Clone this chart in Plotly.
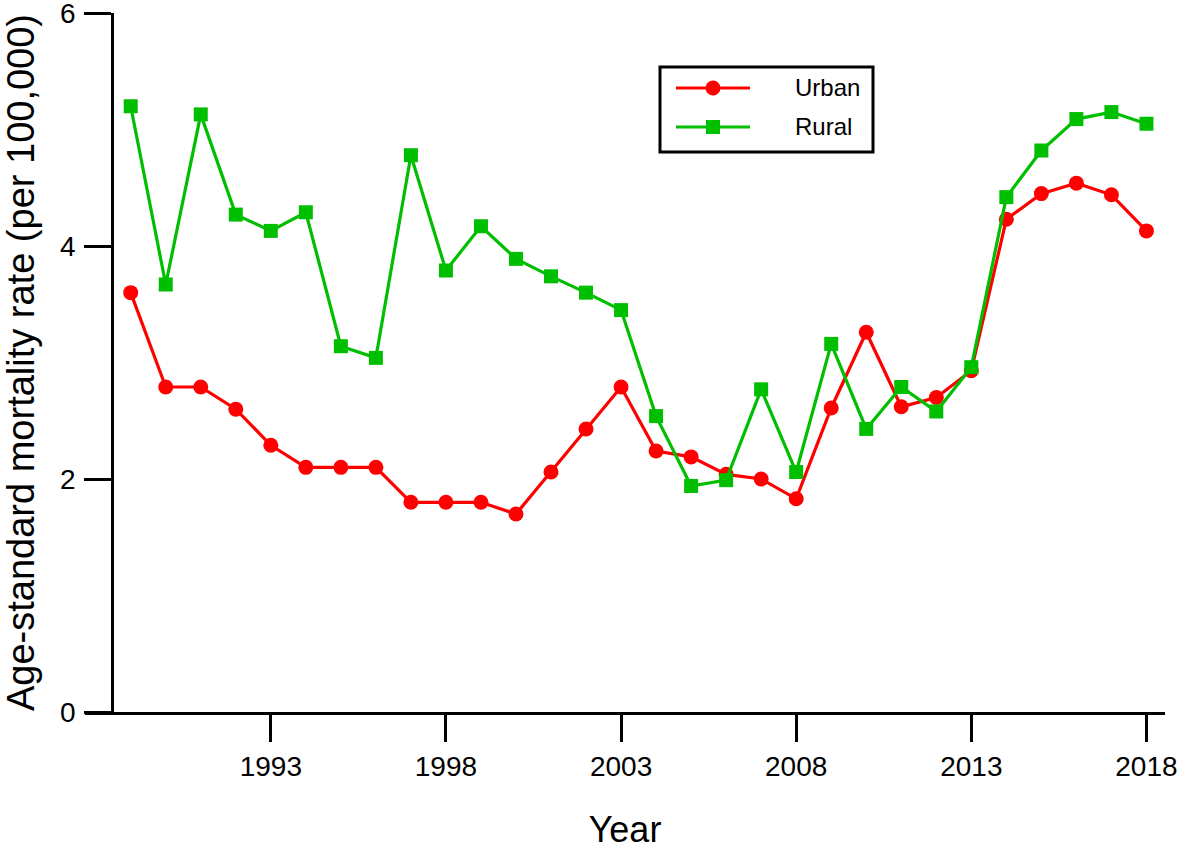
import plotly.graph_objects as go

years = list(range(1989, 2019))
urban = [3.60, 2.79, 2.79, 2.60, 2.29, 2.10, 2.10, 2.10, 1.80, 1.80,
         1.80, 1.70, 2.06, 2.43, 2.79, 2.24, 2.19, 2.04, 2.00, 1.83,
         2.61, 3.26, 2.62, 2.70, 2.93, 4.23, 4.45, 4.54, 4.44, 4.13]
rural = [5.20, 3.67, 5.13, 4.27, 4.13, 4.29, 3.14, 3.04, 4.78, 3.79,
         4.17, 3.89, 3.74, 3.60, 3.45, 2.54, 1.94, 1.99, 2.77, 2.06,
         3.16, 2.43, 2.79, 2.58, 2.96, 4.42, 4.82, 5.09, 5.15, 5.05]
x_ticks = [1993, 1998, 2003, 2008, 2013, 2018]
y_ticks = [0, 2, 4, 6]
series_names = ["Urban", "Rural"]

RED = "rgb(255,0,0)"
GREEN = "rgb(0,190,0)"
FONT = "Liberation Sans, Arial, sans-serif"

W, H = 1181, 850
ML, MR, MT, MB = 85, 16, 13, 138
PW, PH = W - ML - MR, H - MT - MB


def px(xp):
    return (xp - ML) / PW


def py(yp):
    return 1 - (yp - MT) / PH


fig = go.Figure()
fig.add_trace(go.Scatter(x=years, y=urban, name=series_names[0], mode="lines+markers",
                         line=dict(color=RED, width=3.2),
                         marker=dict(symbol="circle", size=15, color=RED)))
fig.add_trace(go.Scatter(x=years, y=rural, name=series_names[1], mode="lines+markers",
                         line=dict(color=GREEN, width=3.2),
                         marker=dict(symbol="square", size=14, color=GREEN)))

# legend drawn as shapes + text
shapes = [dict(type="rect", xref="paper", yref="paper",
               x0=px(660), x1=px(873), y0=py(152), y1=py(67),
               line=dict(color="black", width=3), fillcolor="white", layer="above")]
annotations = []
for name, color, sym, yrow in [(series_names[0], RED, "circle", 88),
                               (series_names[1], GREEN, "square", 127)]:
    shapes.append(dict(type="line", xref="paper", yref="paper",
                       x0=px(676), x1=px(750), y0=py(yrow), y1=py(yrow),
                       line=dict(color=color, width=3), layer="above"))
    half = 7.5 if sym == "circle" else 7
    shapes.append(dict(type="circle" if sym == "circle" else "rect",
                       xref="paper", yref="paper",
                       xsizemode="pixel", ysizemode="pixel",
                       xanchor=px(713), yanchor=py(yrow),
                       x0=-half, x1=half, y0=-half, y1=half,
                       line=dict(width=0), fillcolor=color, layer="above"))
    annotations.append(dict(xref="paper", yref="paper", x=px(793), y=py(yrow),
                            xanchor="left", yanchor="middle", text=name,
                            showarrow=False, font=dict(size=24, family=FONT, color="black")))

fig.update_layout(
    width=W, height=H,
    margin=dict(l=ML, r=MR, t=MT, b=MB, autoexpand=False),
    plot_bgcolor="white", paper_bgcolor="white",
    font=dict(family=FONT, color="black"),
    showlegend=False,
    shapes=shapes, annotations=annotations,
    xaxis=dict(range=[1987.695, 2018.53], tickmode="array", tickvals=x_ticks,
               ticktext=[str(v) for v in x_ticks],
               showline=True, linecolor="black", linewidth=3,
               ticks="outside", ticklen=27, tickwidth=3, tickcolor="black",
               tickfont=dict(size=28, family=FONT), ticklabeloverflow="allow",
               showgrid=False, zeroline=False, automargin=False,
               title=dict(text="Year", font=dict(size=36, family=FONT), standoff=45)),
    yaxis=dict(range=[0, 6.0005], tickmode="array", tickvals=y_ticks,
               ticktext=[str(v) for v in y_ticks],
               anchor="free", position=(112.3 - ML) / PW,
               showline=True, linecolor="black", linewidth=3,
               ticks="outside", ticklen=27, tickwidth=3, tickcolor="black",
               tickfont=dict(size=28, family=FONT), ticklabeloverflow="allow",
               ticklabelstandoff=3,
               showgrid=False, zeroline=False, automargin=False,
               title=dict(text="Age-standard mortality rate (per 100,000)",
                          font=dict(size=38, family=FONT), standoff=12)),
)

fig.write_html("out.html", config={"displayModeBar": False},
               post_script="document.body.style.margin='0';document.body.style.padding='0';")
